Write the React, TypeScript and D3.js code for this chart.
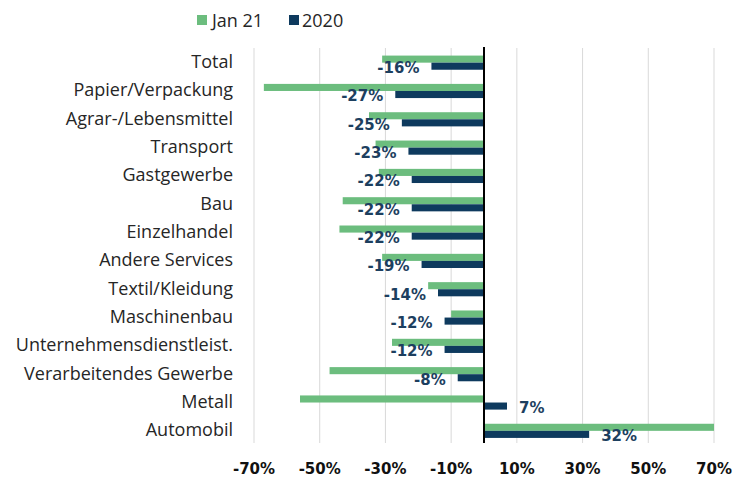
import React from "react";
import * as d3 from "d3";

const categories = [
  "Total",
  "Papier/Verpackung",
  "Agrar-/Lebensmittel",
  "Transport",
  "Gastgewerbe",
  "Bau",
  "Einzelhandel",
  "Andere Services",
  "Textil/Kleidung",
  "Maschinenbau",
  "Unternehmensdienstleist.",
  "Verarbeitendes Gewerbe",
  "Metall",
  "Automobil",
];
const jan21 = [-31, -67, -35, -33, -32, -43, -44, -31, -17, -10, -28, -47, -56, 70];
const y2020 = [-16, -27, -25, -23, -22, -22, -22, -19, -14, -12, -12, -8, 7, 32];
const seriesNames = ["Jan 21", "2020"];
const tickValues = [-70, -50, -30, -10, 10, 30, 50, 70];

const GREEN = "#6cbd7e";
const NAVY = "#0e3a5e";

export default function App() {
  const W = 733;
  const H = 479;
  const x = d3.scaleLinear().domain([-70, 70]).range([254, 714]);
  const y = d3.scaleBand<string>().domain(categories).range([48.5, 445]).padding(0);
  const inner = d3
    .scaleBand<string>()
    .domain(seriesNames)
    .range([0, y.bandwidth()])
    .paddingInner(0)
    .paddingOuter(1);
  const labelFont = "'Open Sans', 'Liberation Sans', sans-serif";
  const boldFont = "'DejaVu Sans', sans-serif";
  return (
    <svg
      width={W}
      height={H}
      style={{ position: "absolute", left: 0, top: 0, background: "#fff" }}
    >
      {/* gridlines */}
      {tickValues.map((t) => (
        <line
          key={"g" + t}
          x1={x(t)}
          x2={x(t)}
          y1={48}
          y2={443}
          stroke="#d9d9d9"
          strokeWidth={1}
        />
      ))}
      {/* bars */}
      {categories.map((c, i) => {
        const y0 = y(c)!;
        const vals = [jan21[i], y2020[i]];
        return (
          <g key={c}>
            {vals.map((v, j) => (
              <rect
                key={j}
                x={Math.min(x(0), x(v))}
                y={y0 + inner(seriesNames[j])!}
                width={Math.abs(x(v) - x(0))}
                height={inner.bandwidth()}
                fill={j === 0 ? GREEN : NAVY}
              />
            ))}
          </g>
        );
      })}
      {/* zero line */}
      <line x1={x(0)} x2={x(0)} y1={47} y2={443} stroke="#000" strokeWidth={2} />
      {/* value labels */}
      {categories.map((c, i) => {
        const v = y2020[i];
        const cy = y(c)! + y.bandwidth() / 2;
        return (
          <text
            key={"v" + c}
            x={v < 0 ? x(v) - 12 : x(v) + 12}
            y={cy + 10.5}
            textAnchor={v < 0 ? "end" : "start"}
            fontFamily={boldFont}
            fontWeight="bold"
            fontSize={15}
            fill="#1d3f5f"
          >
            {`${v}%`}
          </text>
        );
      })}
      {/* category labels */}
      {categories.map((c) => (
        <text
          key={"c" + c}
          x={233}
          y={y(c)! + y.bandwidth() / 2 + 5.5}
          textAnchor="end"
          fontFamily={labelFont}
          fontSize={18}
          fill="#262626"
        >
          {c}
        </text>
      ))}
      {/* x tick labels */}
      {tickValues.map((t) => (
        <text
          key={"t" + t}
          x={x(t)}
          y={474}
          textAnchor="middle"
          fontFamily={boldFont}
          fontWeight="bold"
          fontSize={15}
          fill="#111"
        >
          {`${t}%`}
        </text>
      ))}
      {/* legend */}
      <g fontFamily={labelFont} fontSize={18} fill="#262626">
        <rect x={197} y={15} width={10} height={10} fill={GREEN} />
        <text x={212} y={26.5}>{seriesNames[0]}</text>
        <rect x={289} y={15} width={10} height={10} fill={NAVY} />
        <text x={302} y={26.5}>{seriesNames[1]}</text>
      </g>
    </svg>
  );
}
